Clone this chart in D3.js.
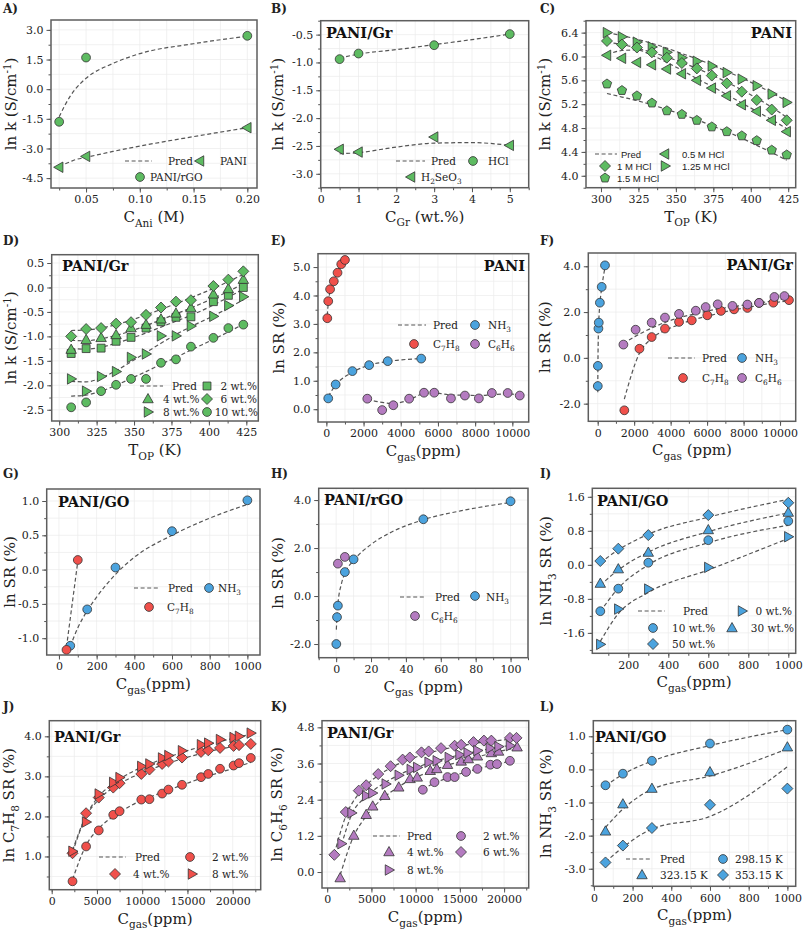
<!DOCTYPE html>
<html><head><meta charset="utf-8">
<script src="https://cdn.jsdelivr.net/npm/d3@7"></script>
<style>body{margin:0;background:#fff}</style></head>
<body>
<svg id="c" width="803" height="931"></svg>
<script>
// ---------------- DATA ----------------
// A
const A_x = [0.025, 0.05, 0.2];
const A_rGO = [-1.65, 1.6, 2.7];
const A_PANI = [-3.95, -3.4, -1.95];
const A_px = [0.025, 0.03, 0.035, 0.04, 0.05, 0.075, 0.1, 0.15, 0.2];
const A_pRGO = [-1.4, -0.85, -0.38, 0.0, 0.55, 1.3, 1.8, 2.3, 2.68];
const A_pPANI = [-3.9, -3.79, -3.68, -3.57, -3.45, -3.15, -2.88, -2.4, -1.95];
// B
const B_x = [0.5, 1, 3, 5];
const B_HCl = [-0.94, -0.84, -0.69, -0.49];
const B_H2SeO3 = [-2.56, -2.61, -2.34, -2.49];
const B_px = [0.5, 1, 2, 3, 4, 5];
const B_pHCl = [-0.92, -0.85, -0.77, -0.68, -0.59, -0.49];
const B_pH2SeO3 = [-2.64, -2.62, -2.52, -2.45, -2.44, -2.49];
// C
const C_x = [304, 314, 324, 334, 344, 354, 364, 374, 384, 394, 404, 414, 424];
const C_125 = [6.40, 6.33, 6.24, 6.16, 6.07, 5.98, 5.92, 5.84, 5.73, 5.62, 5.51, 5.37, 5.23];
const C_1 = [6.26, 6.20, 6.15, 6.07, 5.98, 5.89, 5.80, 5.68, 5.55, 5.41, 5.27, 5.11, 4.93];
const C_05 = [6.02, 5.97, 5.90, 5.86, 5.79, 5.71, 5.60, 5.47, 5.34, 5.19, 5.08, 4.93, 4.74];
const C_15 = [5.54, 5.43, 5.34, 5.22, 5.09, 5.03, 4.93, 4.82, 4.74, 4.67, 4.59, 4.43, 4.35];
const C_p125 = [6.40, 6.35, 6.29, 6.22, 6.14, 6.05, 5.96, 5.86, 5.75, 5.64, 5.52, 5.39, 5.25];
const C_p1 = [6.24, 6.20, 6.14, 6.07, 5.99, 5.90, 5.80, 5.69, 5.57, 5.44, 5.30, 5.15, 4.98];
const C_p05 = [6.03, 6.10, 6.11, 6.02, 5.90, 5.77, 5.63, 5.50, 5.36, 5.22, 5.08, 4.94, 4.79];
const C_p15 = [5.38, 5.32, 5.26, 5.19, 5.11, 5.03, 4.94, 4.84, 4.74, 4.63, 4.51, 4.39, 4.26];
// D
const D_x = [308, 318, 328, 338, 348, 358, 368, 378, 388, 403, 413, 423];
const D_6 = [-1.0, -0.85, -0.83, -0.74, -0.71, -0.56, -0.41, -0.29, -0.26, 0.03, 0.16, 0.33];
const D_4 = [-1.27, -1.07, -1.03, -0.97, -0.83, -0.76, -0.65, -0.53, -0.42, -0.14, -0.03, 0.16];
const D_2 = [-1.35, -1.25, -1.24, -1.10, -1.02, -0.83, -0.70, -0.61, -0.60, -0.29, -0.16, 0.0];
const D_8 = [-1.87, -2.12, -1.82, -1.72, -1.43, -1.36, -0.99, -0.99, -0.79, -0.59, -0.37, -0.19];
const D_10 = [-2.45, -2.35, -2.12, -1.99, -1.87, -1.87, -1.54, -1.47, -1.21, -1.03, -0.83, -0.76];
const D_p6 = [-0.88, -0.87, -0.83, -0.76, -0.67, -0.56, -0.45, -0.33, -0.21, -0.02, 0.12, 0.27];
const D_p4 = [-1.08, -1.09, -1.05, -0.98, -0.89, -0.78, -0.66, -0.54, -0.42, -0.22, -0.08, 0.08];
const D_p2 = [-1.25, -1.26, -1.22, -1.14, -1.04, -0.93, -0.81, -0.69, -0.57, -0.36, -0.2, -0.03];
const D_p8 = [-1.92, -1.93, -1.85, -1.70, -1.52, -1.33, -1.14, -0.96, -0.80, -0.58, -0.42, -0.25];
const D_p10 = [-2.22, -2.20, -2.12, -2.00, -1.86, -1.72, -1.57, -1.43, -1.28, -1.06, -0.91, -0.75];
// E
const E_xT = [50, 100, 200, 400, 600, 800, 1000];
const E_T = [3.2, 3.8, 4.22, 4.5, 4.8, 5.1, 5.25];
const E_pT = [3.3, 3.72, 4.15, 4.55, 4.82, 5.05, 5.22];
const E_xN = [100, 500, 1400, 2300, 3300, 5100];
const E_N = [0.38, 0.87, 1.34, 1.55, 1.69, 1.78];
const E_pN = [0.45, 0.85, 1.3, 1.55, 1.68, 1.78];
const E_xB = [2200, 3000, 3600, 4450, 5250, 5800, 6700, 7450, 8200, 8900, 9750, 10400];
const E_B = [0.37, -0.03, 0.14, 0.37, 0.58, 0.58, 0.38, 0.48, 0.38, 0.57, 0.57, 0.48];
const E_pB = [0.34, 0.24, 0.2, 0.33, 0.55, 0.57, 0.5, 0.49, 0.48, 0.51, 0.54, 0.5];
// F
const F_xN = [5, 10, 40, 60, 120, 220, 400];
const F_N = [-1.23, -0.35, 1.28, 1.54, 2.41, 3.10, 4.04];
const F_pN = [-1.5, -0.6, 1.1, 1.6, 2.35, 3.05, 3.95];
const F_xT = [1460, 2290, 2960, 3690, 4460, 5160, 6010, 6760, 7480, 8210, 8850, 9630, 10490];
const F_T = [-2.29, 0.40, 0.91, 1.28, 1.57, 1.64, 1.86, 2.05, 2.12, 2.18, 2.40, 2.41, 2.52];
const F_pT = [-1.8, 0.2, 0.85, 1.2, 1.45, 1.65, 1.82, 1.97, 2.1, 2.2, 2.3, 2.4, 2.5];
const F_xB = [1410, 2080, 2960, 3690, 4460, 5380, 5920, 6580, 7390, 8210, 8850, 9690, 10240];
const F_B = [0.58, 1.23, 1.54, 1.76, 1.92, 2.06, 2.22, 2.34, 2.27, 2.33, 2.40, 2.66, 2.70];
const F_pB = [0.62, 0.95, 1.3, 1.55, 1.75, 1.93, 2.03, 2.13, 2.23, 2.33, 2.4, 2.5, 2.58];
// G
const G_xN = [60, 150, 300, 600, 1000];
const G_N = [-1.11, -0.58, 0.03, 0.56, 1.01];
const G_pxN = [60, 100, 150, 200, 300, 400, 600, 800, 1000];
const G_pN = [-1.12, -0.85, -0.6, -0.4, -0.07, 0.18, 0.5, 0.75, 0.95];
const G_xT = [40, 100];
const G_T = [-1.17, 0.14];
const G_pT = [-1.13, 0.12];
// H
const H_xN = [0.1, 0.5, 1, 5, 10, 50, 100];
const H_N = [-2.0, -0.88, -0.4, 1.0, 1.53, 3.2, 3.95];
const H_pxN = [0.1, 0.5, 1, 3, 5, 10, 20, 30, 50, 75, 100];
const H_pN = [-1.4, -0.9, -0.35, 0.5, 0.95, 1.48, 2.15, 2.6, 3.18, 3.6, 3.9];
const H_xB = [1, 5];
const H_B = [1.35, 1.63];
const H_pB = [1.35, 1.6];
// I
const I_x = [60, 150, 300, 600, 1000];
const I_50 = [0.09, 0.38, 0.70, 1.17, 1.46];
const I_30 = [-0.44, -0.10, 0.29, 0.82, 1.23];
const I_10 = [-1.09, -0.56, 0.05, 0.58, 1.03];
const I_0 = [-1.87, -1.04, -0.57, -0.06, 0.66];
const I_p50 = [0.05, 0.35, 0.72, 1.12, 1.54];
const I_p30 = [-0.48, -0.12, 0.3, 0.78, 1.22];
const I_p10 = [-1.1, -0.55, 0.0, 0.52, 0.93];
const I_p0 = [-1.8, -1.15, -0.65, -0.12, 0.62];
// J
const J_x = [2300, 3800, 5200, 6800, 7500, 9900, 10800, 12200, 12900, 14400, 16500, 17300, 18600, 20100, 20700, 22000];
const J_2 = [0.38, 1.25, 1.65, 2.04, 2.13, 2.42, 2.43, 2.57, 2.67, 2.79, 2.98, 3.06, 3.19, 3.27, 3.33, 3.46];
const J_4 = [1.08, 2.08, 2.47, 2.72, 2.83, 3.06, 3.17, 3.31, 3.37, 3.47, 3.61, 3.65, 3.71, 3.76, 3.78, 3.81];
const J_8 = [1.13, 1.86, 2.56, 2.85, 2.97, 3.25, 3.31, 3.46, 3.52, 3.64, 3.79, 3.83, 3.92, 3.97, 4.0, 4.08];
const J_p2 = [0.42, 1.28, 1.7, 2.0, 2.1, 2.4, 2.48, 2.6, 2.66, 2.78, 2.95, 3.01, 3.1, 3.2, 3.25, 3.35];
const J_p4 = [1.1, 2.0, 2.42, 2.72, 2.82, 3.08, 3.16, 3.28, 3.33, 3.44, 3.57, 3.62, 3.68, 3.75, 3.78, 3.83];
const J_p8 = [1.15, 2.02, 2.5, 2.82, 2.93, 3.22, 3.3, 3.43, 3.48, 3.6, 3.74, 3.79, 3.87, 3.95, 3.98, 4.06];
// K
const K_x6 = [810, 2100, 3570, 4410, 5770, 7170, 8530, 9340, 10660, 11470, 12870, 14410, 15150, 16540, 17720, 18560, 20660, 21400];
const K_6 = [0.57, 1.99, 2.70, 2.88, 3.25, 3.51, 3.73, 3.80, 3.97, 4.0, 4.11, 4.19, 4.22, 4.31, 4.36, 4.36, 4.45, 4.45];
const K_p6 = [0.6, 1.85, 2.6, 2.88, 3.2, 3.45, 3.65, 3.74, 3.88, 3.95, 4.05, 4.15, 4.19, 4.26, 4.31, 4.34, 4.4, 4.42];
const K_x8 = [1620, 2760, 4410, 5110, 6620, 8090, 9450, 10180, 11470, 12390, 13750, 14960, 15880, 16980, 18380, 19370, 20660];
const K_8 = [0.94, 1.96, 2.53, 2.62, 2.92, 3.21, 3.40, 3.47, 3.64, 3.69, 3.80, 3.89, 3.95, 4.03, 4.11, 4.16, 4.19];
const K_p8 = [0.9, 1.9, 2.5, 2.68, 2.98, 3.22, 3.4, 3.48, 3.61, 3.69, 3.8, 3.88, 3.94, 4.01, 4.09, 4.14, 4.2];
const K_x4 = [1470, 3010, 4410, 5150, 6510, 8090, 9370, 10180, 11650, 12390, 13600, 15150, 15950, 16980, 18560, 19370, 21470];
const K_4 = [-0.2, 1.21, 1.90, 2.18, 2.53, 2.81, 3.09, 3.14, 3.36, 3.42, 3.56, 3.67, 3.75, 3.84, 3.95, 4.0, 4.14];
const K_p4 = [-0.1, 1.2, 1.85, 2.12, 2.5, 2.83, 3.05, 3.16, 3.34, 3.42, 3.54, 3.67, 3.74, 3.82, 3.94, 4.0, 4.12];
const K_x2 = [10810, 12130, 13600, 14410, 15700, 16980, 18450, 19190, 20660];
const K_2 = [2.73, 2.98, 3.15, 3.15, 3.32, 3.42, 3.56, 3.58, 3.69];
const K_p2 = [2.75, 2.95, 3.12, 3.2, 3.32, 3.42, 3.53, 3.58, 3.68];
// L
const L_x = [60, 150, 300, 600, 1000];
const L_298 = [-0.48, -0.13, 0.26, 0.78, 1.2];
const L_323 = [-1.87, -1.05, -0.58, -0.08, 0.67];
const L_353 = [-2.81, -2.30, -1.77, -1.07, -0.58];
const L_p298 = [-0.5, -0.15, 0.25, 0.72, 1.2];
const L_p323 = [-1.75, -1.2, -0.6, -0.2, 0.62];
const L_p353 = [-2.8, -2.35, -1.8, -1.42, 0.08];

// ---------------- STYLE ----------------
const GR = '#5dbb61', RD = '#f0504b', BL = '#4ba3de', PU = '#b47bc0';
const SERIF = 'DejaVu Serif', SANS = 'Liberation Sans';
const fmt1 = v => d3.format('.1f')(v).replace('\u2212', '-');
const fmt2 = v => d3.format('.2f')(v);
const fmtD = v => d3.format('d')(v);

const svg = d3.select('#c');

function rich(sel, str, size) {
  const parts = str.split(/(_\{[^}]*\}|\^\{[^}]*\})/);
  let shift = 0;
  parts.forEach(p => {
    if (!p) return;
    let target = 0, txt = p, fs = size;
    if (p.startsWith('_{')) { target = size * 0.3; txt = p.slice(2, -1); fs = size * 0.7; }
    else if (p.startsWith('^{')) { target = -size * 0.36; txt = p.slice(2, -1); fs = size * 0.68; }
    sel.append('tspan').attr('dy', target - shift).attr('font-size', fs).text(txt);
    shift = target;
  });
}

function shapePath(t, r) {
  if (t === 'circle') return d3.symbol(d3.symbolCircle, Math.PI * r * r)();
  if (t === 'square') { const s = r * 0.9; return `M${-s},${-s}H${s}V${s}H${-s}Z`; }
  if (t === 'diamond') { const s = r * 1.25; return `M0,${-s}L${s},0L0,${s}L${-s},0Z`; }
  const a = r * 1.25;
  if (t === 'up') return `M0,${-a}L${a * 0.95},${a * 0.68}L${-a * 0.95},${a * 0.68}Z`;
  if (t === 'left') return `M${-a},0L${a * 0.68},${-a * 0.95}L${a * 0.68},${a * 0.95}Z`;
  if (t === 'right') return `M${a},0L${-a * 0.68},${-a * 0.95}L${-a * 0.68},${a * 0.95}Z`;
  if (t === 'pent') {
    const pts = d3.range(5).map(i => { const an = -Math.PI / 2 + i * 2 * Math.PI / 5; return [r * 1.12 * Math.cos(an), r * 1.12 * Math.sin(an)]; });
    return 'M' + pts.map(p => p.join(',')).join('L') + 'Z';
  }
}
const MR = 4.4;

function drawPanel(p, idx) {
  const g = svg.append('g');
  const x = d3.scaleLinear().domain(p.xd).range([p.L, p.R]);
  const y = d3.scaleLinear().domain(p.yd).range([p.B, p.T]);
  const xmin = d3.range(Math.ceil(p.xd[0] / p.xm) * p.xm, p.xd[1] + 1e-9, p.xm);
  const ymin = d3.range(Math.ceil(p.yd[0] / p.ym) * p.ym, p.yd[1] + 1e-9, p.ym);
  // grid
  g.append('g').selectAll('line').data(xmin).join('line')
    .attr('x1', d => x(d)).attr('x2', d => x(d)).attr('y1', p.T).attr('y2', p.B)
    .attr('stroke', '#ebebeb').attr('stroke-width', 0.7);
  g.append('g').selectAll('line').data(ymin).join('line')
    .attr('y1', d => y(d)).attr('y2', d => y(d)).attr('x1', p.L).attr('x2', p.R)
    .attr('stroke', '#ebebeb').attr('stroke-width', 0.7);
  // axes
  const styleAxis = a => {
    a.select('.domain').remove();
    a.selectAll('line').attr('stroke', '#555').attr('stroke-width', 1);
    a.selectAll('text').attr('font-family', SERIF).attr('font-size', 11).attr('fill', '#222');
  };
  g.append('g').attr('transform', `translate(0,${p.B})`)
    .call(d3.axisBottom(x).tickValues(xmin).tickSize(2.5).tickFormat('')).call(styleAxis);
  g.append('g').attr('transform', `translate(0,${p.B})`)
    .call(d3.axisBottom(x).tickValues(p.xt).tickSize(4.5).tickPadding(3).tickFormat(p.xf)).call(styleAxis);
  g.append('g').attr('transform', `translate(${p.L},0)`)
    .call(d3.axisLeft(y).tickValues(ymin).tickSize(2.5).tickFormat('')).call(styleAxis);
  g.append('g').attr('transform', `translate(${p.L},0)`)
    .call(d3.axisLeft(y).tickValues(p.yt).tickSize(4.5).tickPadding(3).tickFormat(fmt1)).call(styleAxis);
  // clip
  const cid = 'clip' + idx;
  svg.append('clipPath').attr('id', cid).append('rect')
    .attr('x', p.L).attr('y', p.T).attr('width', p.R - p.L).attr('height', p.B - p.T);
  // preds
  const line = d3.line().x(d => x(d[0])).y(d => y(d[1])).curve(d3.curveMonotoneX);
  p.preds.forEach(pr => {
    g.append('path').attr('clip-path', `url(#${cid})`)
      .attr('d', line(pr.x.map((v, i) => [v, pr.y[i]])))
      .attr('fill', 'none').attr('stroke', '#555').attr('stroke-width', 1.2)
      .attr('stroke-dasharray', '4,2.6');
  });
  // markers
  p.series.forEach(s => {
    g.append('g').selectAll('path').data(s.x.map((v, i) => [v, s.y[i]])).join('path')
      .attr('transform', d => `translate(${x(d[0])},${y(d[1])})`)
      .attr('d', shapePath(s.shape, MR))
      .attr('fill', s.color).attr('stroke', '#333').attr('stroke-width', 0.8);
  });
  // frame
  g.append('rect').attr('x', p.L).attr('y', p.T).attr('width', p.R - p.L).attr('height', p.B - p.T)
    .attr('fill', 'none').attr('stroke', '#5e5e5e').attr('stroke-width', 1.5);
  // titles
  const xt = g.append('text').attr('x', (p.L + p.R) / 2).attr('y', p.B + 34)
    .attr('text-anchor', 'middle').attr('font-family', SERIF).attr('fill', '#222');
  rich(xt, p.xtitle, 15);
  const yt = g.append('text').attr('transform', `translate(${p.ytx},${(p.T + p.B) / 2}) rotate(-90)`)
    .attr('text-anchor', 'middle').attr('font-family', SERIF).attr('fill', '#222').attr('dy', '0.35em');
  rich(yt, p.ytitle, 15);
  // panel label
  g.append('text').attr('x', p.lx).attr('y', p.ly).attr('font-family', SERIF).attr('font-weight', 'bold')
    .attr('font-size', 12).attr('fill', '#222').text(p.label);
  // tag
  if (p.tag) g.append('text').attr('x', p.tag[1]).attr('y', p.tag[2]).attr('text-anchor', p.tag[3])
    .attr('font-family', SERIF).attr('font-weight', 'bold').attr('font-size', 14.5).attr('fill', '#111').text(p.tag[0]);
  // legend
  const lf = p.lfont || SERIF, ls = p.lsize || 10.5;
  p.legend.forEach(it => {
    if (it[0] === 'line') {
      g.append('line').attr('x1', it[1]).attr('x2', it[2]).attr('y1', it[3]).attr('y2', it[3])
        .attr('stroke', '#555').attr('stroke-width', 1.2).attr('stroke-dasharray', '4,2.6');
    } else if (it[0] === 'm') {
      g.append('path').attr('transform', `translate(${it[3]},${it[4]})`).attr('d', shapePath(it[1], MR))
        .attr('fill', it[2]).attr('stroke', '#333').attr('stroke-width', 0.8);
    } else {
      const t = g.append('text').attr('x', it[1]).attr('y', it[2] + 3.7).attr('text-anchor', it[3] || 'start')
        .attr('font-family', lf).attr('fill', '#222');
      rich(t, it[0], ls);
    }
  });
}

const KT = 'ln k (S/cm^{-1})', SRT = 'ln SR (%)', CG = 'C_{gas}(ppm)', CGs = 'C_{gas} (ppm)';
const panels = [
  { label: 'A)', lx: 3, ly: 13, L: 51, R: 257, T: 20, B: 188, xd: [0.0174, 0.209], yd: [-5, 3.5],
    xt: [0.05, 0.1, 0.15, 0.2], xm: 0.025, yt: [-4.5, -3, -1.5, 0, 1.5, 3], ym: 0.75, xf: fmt2,
    xtitle: 'C_{Ani} (M)', ytitle: KT, ytx: 16,
    preds: [{ x: A_px, y: A_pRGO }, { x: A_px, y: A_pPANI }],
    series: [{ x: A_x, y: A_rGO, shape: 'circle', color: GR }, { x: A_x, y: A_PANI, shape: 'left', color: GR }],
    legend: [['line', 125, 152, 161], ['Pred', 168, 161], ['m', 'left', GR, 200, 161], ['PANI', 220, 161],
      ['m', 'circle', GR, 140, 177], ['PANI/rGO', 150, 177]] },
  { label: 'B)', lx: 271, ly: 13, L: 320.7, R: 528.7, T: 20.7, B: 187.7, xd: [0, 5.5], yd: [-3.25, -0.25],
    xt: [0, 1, 2, 3, 4, 5], xm: 0.5, yt: [-3, -2.5, -2, -1.5, -1, -0.5], ym: 0.25, xf: fmtD,
    xtitle: 'C_{Gr} (wt.%)', ytitle: KT, ytx: 283, tag: ['PANI/Gr', 326, 38, 'start'],
    preds: [{ x: B_px, y: B_pHCl }, { x: B_px, y: B_pH2SeO3 }],
    series: [{ x: B_x, y: B_HCl, shape: 'circle', color: GR }, { x: B_x, y: B_H2SeO3, shape: 'left', color: GR }],
    legend: [['line', 396, 425, 161], ['Pred', 431, 161], ['m', 'circle', GR, 473, 161], ['HCl', 488, 161],
      ['m', 'left', GR, 411, 177], ['H_{2}SeO_{3}', 421, 177]] },
  { label: 'C)', lx: 540, ly: 13, L: 586, R: 795.7, T: 20.7, B: 187.7, xd: [290, 430], yd: [3.8, 6.6],
    xt: [300, 325, 350, 375, 400, 425], xm: 12.5, yt: [4.0, 4.4, 4.8, 5.2, 5.6, 6.0, 6.4], ym: 0.2, xf: fmtD,
    xtitle: 'T_{OP} (K)', ytitle: KT, ytx: 550, tag: ['PANI', 792, 38, 'end'],
    preds: [{ x: C_x, y: C_p125 }, { x: C_x, y: C_p1 }, { x: C_x, y: C_p05 }, { x: C_x, y: C_p15 }],
    series: [{ x: C_x, y: C_125, shape: 'right', color: GR }, { x: C_x, y: C_1, shape: 'diamond', color: GR },
      { x: C_x, y: C_05, shape: 'left', color: GR }, { x: C_x, y: C_15, shape: 'pent', color: GR }],
    lfont: SANS, lsize: 9.5,
    legend: [['line', 595, 617, 154], ['Pred', 621, 154], ['m', 'left', GR, 665, 154], ['0.5 M HCl', 682, 154],
      ['m', 'diamond', GR, 605, 166], ['1 M HCl', 617, 166], ['m', 'right', GR, 665, 166], ['1.25 M HCl', 682, 166],
      ['m', 'pent', GR, 605, 178], ['1.5 M HCl', 617, 178]] },
  { label: 'D)', lx: 3, ly: 245, L: 51.7, R: 258.3, T: 254.7, B: 421, xd: [295, 433], yd: [-2.73, 0.67],
    xt: [300, 325, 350, 375, 400, 425], xm: 12.5, yt: [-2.5, -2, -1.5, -1, -0.5, 0, 0.5], ym: 0.25, xf: fmtD,
    xtitle: 'T_{OP} (K)', ytitle: KT, ytx: 16, tag: ['PANI/Gr', 62, 271, 'start'],
    preds: [{ x: D_x, y: D_p6 }, { x: D_x, y: D_p4 }, { x: D_x, y: D_p2 }, { x: D_x, y: D_p8 }, { x: D_x, y: D_p10 }],
    series: [{ x: D_x, y: D_2, shape: 'square', color: GR }, { x: D_x, y: D_4, shape: 'up', color: GR },
      { x: D_x, y: D_6, shape: 'diamond', color: GR }, { x: D_x, y: D_8, shape: 'right', color: GR },
      { x: D_x, y: D_10, shape: 'circle', color: GR }],
    legend: [['line', 140, 163, 386], ['Pred', 172, 386], ['m', 'square', GR, 207, 386], ['2 wt.%', 257, 386, 'end'],
      ['m', 'up', GR, 148, 399], ['4 wt.%', 163, 399], ['m', 'diamond', GR, 207, 399], ['6 wt.%', 257, 399, 'end'],
      ['m', 'right', GR, 148, 412], ['8 wt.%', 163, 412], ['m', 'circle', GR, 207, 412], ['10 wt.%', 258, 412, 'end']] },
  { label: 'E)', lx: 271, ly: 245, L: 318, R: 528.7, T: 253.7, B: 422, xd: [-450, 10880], yd: [-0.45, 5.47],
    xt: [0, 2000, 4000, 6000, 8000, 10000], xm: 1000, yt: [0, 1, 2, 3, 4, 5], ym: 0.5, xf: fmtD,
    xtitle: CG, ytitle: SRT, ytx: 284, tag: ['PANI', 525, 271, 'end'],
    preds: [{ x: E_xT, y: E_pT }, { x: E_xN, y: E_pN }, { x: E_xB, y: E_pB }],
    series: [{ x: E_xT, y: E_T, shape: 'circle', color: RD }, { x: E_xN, y: E_N, shape: 'circle', color: BL },
      { x: E_xB, y: E_B, shape: 'circle', color: PU }],
    legend: [['line', 398, 426, 325], ['Pred', 433, 325], ['m', 'circle', BL, 475, 325], ['NH_{3}', 488, 325],
      ['m', 'circle', RD, 414, 344], ['C_{7}H_{8}', 433, 344], ['m', 'circle', PU, 475, 344], ['C_{6}H_{6}', 488, 344]] },
  { label: 'F)', lx: 540, ly: 245, L: 588.3, R: 795.7, T: 253, B: 421.3, xd: [-515, 10858], yd: [-2.77, 4.58],
    xt: [0, 2000, 4000, 6000, 8000, 10000], xm: 1000, yt: [-2, 0, 2, 4], ym: 1, xf: fmtD,
    xtitle: CGs, ytitle: SRT, ytx: 550, tag: ['PANI/Gr', 793, 270, 'end'],
    preds: [{ x: F_xN, y: F_pN }, { x: F_xT, y: F_pT }, { x: F_xB, y: F_pB }],
    series: [{ x: F_xN, y: F_N, shape: 'circle', color: BL }, { x: F_xT, y: F_T, shape: 'circle', color: RD },
      { x: F_xB, y: F_B, shape: 'circle', color: PU }],
    legend: [['line', 668, 695, 358], ['Pred', 702, 358], ['m', 'circle', BL, 742, 358], ['NH_{3}', 755, 358],
      ['m', 'circle', RD, 683, 378], ['C_{7}H_{8}', 702, 378], ['m', 'circle', PU, 742, 378], ['C_{6}H_{6}', 755, 378]] },
  { label: 'G)', lx: 3, ly: 478, L: 46.7, R: 260, T: 489, B: 655, xd: [-65, 1067], yd: [-1.245, 1.175],
    xt: [0, 200, 400, 600, 800, 1000], xm: 100, yt: [-1, -0.5, 0, 0.5, 1], ym: 0.25, xf: fmtD,
    xtitle: CG, ytitle: SRT, ytx: 15, tag: ['PANI/GO', 58, 507, 'start'],
    preds: [{ x: G_pxN, y: G_pN }, { x: G_xT, y: G_pT }],
    series: [{ x: G_xN, y: G_N, shape: 'circle', color: BL }, { x: G_xT, y: G_T, shape: 'circle', color: RD }],
    legend: [['line', 134, 160, 588], ['Pred', 168, 588], ['m', 'circle', BL, 209, 588], ['NH_{3}', 218, 588],
      ['m', 'circle', RD, 149, 607], ['C_{7}H_{8}', 167, 607]] },
  { label: 'H)', lx: 271, ly: 478, L: 318.7, R: 528, T: 488.3, B: 657.7, xd: [-10, 110], yd: [-2.57, 4.49],
    xt: [0, 20, 40, 60, 80, 100], xm: 10, yt: [-2, 0, 2, 4], ym: 1, xf: fmtD,
    xtitle: CGs, ytitle: SRT, ytx: 283, tag: ['PANI/rGO', 324, 505, 'start'],
    preds: [{ x: H_pxN, y: H_pN }, { x: H_xB, y: H_pB }],
    series: [{ x: H_xN, y: H_N, shape: 'circle', color: BL }, { x: H_xB, y: H_B, shape: 'circle', color: PU }],
    legend: [['line', 400, 426, 597], ['Pred', 435, 597], ['m', 'circle', BL, 475, 596], ['NH_{3}', 486, 597],
      ['m', 'circle', PU, 415, 616], ['C_{6}H_{6}', 431, 616]] },
  { label: 'I)', lx: 540, ly: 478, L: 592.3, R: 795.7, T: 488.3, B: 653.3, xd: [20, 1037], yd: [-2.08, 1.8],
    xt: [200, 400, 600, 800, 1000], xm: 100, yt: [-1.6, -0.8, 0, 0.8, 1.6], ym: 0.4, xf: fmtD,
    xtitle: CG, ytitle: 'ln NH_{3} SR (%)', ytx: 551, tag: ['PANI/GO', 597, 506, 'start'],
    preds: [{ x: I_x, y: I_p50 }, { x: I_x, y: I_p30 }, { x: I_x, y: I_p10 }, { x: I_x, y: I_p0 }],
    series: [{ x: I_x, y: I_0, shape: 'right', color: BL }, { x: I_x, y: I_10, shape: 'circle', color: BL },
      { x: I_x, y: I_30, shape: 'up', color: BL }, { x: I_x, y: I_50, shape: 'diamond', color: BL }],
    legend: [['line', 638, 665, 611], ['Pred', 683, 611], ['m', 'right', BL, 742, 611], ['0 wt.%', 792, 611, 'end'],
      ['m', 'circle', BL, 653, 628], ['10 wt.%', 672, 628], ['m', 'up', BL, 732, 628], ['30 wt.%', 794, 628, 'end'],
      ['m', 'diamond', BL, 653, 644], ['50 wt.%', 672, 644]] },
  { label: 'J)', lx: 3, ly: 711, L: 49.3, R: 260.7, T: 720.7, B: 889.7, xd: [-265, 23094], yd: [0.17, 4.39],
    xt: [0, 5000, 10000, 15000, 20000], xm: 2500, yt: [1, 2, 3, 4], ym: 0.5, xf: fmtD,
    xtitle: CG, ytitle: 'ln C_{7}H_{8} SR (%)', ytx: 14, tag: ['PANI/Gr', 54, 742, 'start'],
    preds: [{ x: J_x, y: J_p2 }, { x: J_x, y: J_p4 }, { x: J_x, y: J_p8 }],
    series: [{ x: J_x, y: J_2, shape: 'circle', color: RD }, { x: J_x, y: J_4, shape: 'diamond', color: RD },
      { x: J_x, y: J_8, shape: 'right', color: RD }],
    legend: [['line', 99, 126, 857], ['Pred', 135, 857], ['m', 'circle', RD, 190, 857], ['2 wt.%', 212, 857],
      ['m', 'diamond', RD, 115, 874], ['4 wt.%', 133, 874], ['m', 'right', RD, 192, 874], ['8 wt.%', 212, 874]] },
  { label: 'K)', lx: 271, ly: 711, L: 322, R: 528.7, T: 720.7, B: 888, xd: [-585, 22780], yd: [-0.53, 5.02],
    xt: [0, 5000, 10000, 15000, 20000], xm: 2500, yt: [0, 1.2, 2.4, 3.6, 4.8], ym: 0.6, xf: fmtD,
    xtitle: CG, ytitle: 'ln C_{6}H_{6} SR (%)', ytx: 282, tag: ['PANI/Gr', 327, 738, 'start'],
    preds: [{ x: K_x6, y: K_p6 }, { x: K_x8, y: K_p8 }, { x: K_x4, y: K_p4 }, { x: K_x2, y: K_p2 }],
    series: [{ x: K_x2, y: K_2, shape: 'circle', color: PU }, { x: K_x4, y: K_4, shape: 'up', color: PU },
      { x: K_x6, y: K_6, shape: 'diamond', color: PU }, { x: K_x8, y: K_8, shape: 'right', color: PU }],
    legend: [['line', 373, 400, 836], ['Pred', 407, 836], ['m', 'circle', PU, 461, 836], ['2 wt.%', 483, 836],
      ['m', 'up', PU, 389, 852], ['4 wt.%', 407, 852], ['m', 'diamond', PU, 461, 852], ['6 wt.%', 483, 852],
      ['m', 'right', PU, 389, 870], ['8 wt.%', 407, 870]] },
  { label: 'L)', lx: 540, ly: 711, L: 593.3, R: 795.7, T: 720.7, B: 886.3, xd: [-3, 1043], yd: [-3.53, 1.47],
    xt: [0, 200, 400, 600, 800, 1000], xm: 100, yt: [-3, -2, -1, 0, 1], ym: 0.5, xf: fmtD,
    xtitle: CG, ytitle: 'ln NH_{3} SR (%)', ytx: 551, tag: ['PANI/GO', 595, 742, 'start'],
    preds: [{ x: L_x, y: L_p298 }, { x: L_x, y: L_p323 }, { x: L_x, y: L_p353 }],
    series: [{ x: L_x, y: L_298, shape: 'circle', color: BL }, { x: L_x, y: L_323, shape: 'up', color: BL },
      { x: L_x, y: L_353, shape: 'diamond', color: BL }],
    legend: [['line', 626, 652, 859], ['Pred', 660, 859], ['m', 'circle', BL, 723, 859], ['298.15 K', 735, 859],
      ['m', 'up', BL, 642, 875], ['323.15 K', 660, 875], ['m', 'diamond', BL, 723, 875], ['353.15 K', 735, 875]] }
];
panels.forEach(drawPanel);
</script>
</body></html>
